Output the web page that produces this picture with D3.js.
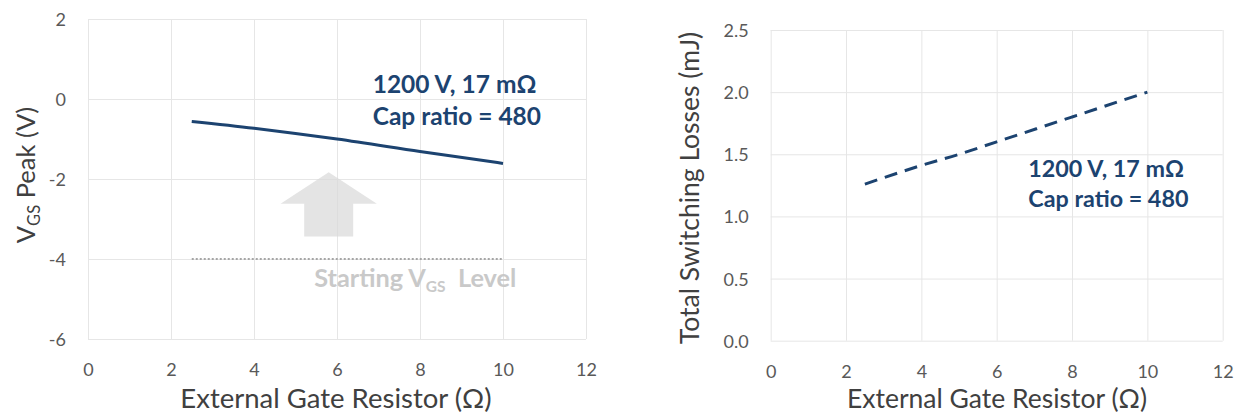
<!DOCTYPE html>
<html><head><meta charset="utf-8">
<script src="https://cdn.jsdelivr.net/npm/d3@7"></script>
<style>body{margin:0;background:#fff} svg{display:block}</style>
</head><body>
<svg id="c" width="1241" height="415"></svg>
<script>
// ---- data ----
const resistor = [2.5, 4, 5, 6, 8, 10];
const vgsPeak = [-0.56, -0.73, -0.86, -1.0, -1.31, -1.61];
const switchLoss = [1.26, 1.41, 1.50, 1.60, 1.80, 2.0];
const startLevelX = [2.5, 10];
const startLevelY = [-4, -4];
const xTicks = [0, 2, 4, 6, 8, 10, 12];
const leftYTicks = [-6, -4, -2, 0, 2];
const rightYTicks = [0, 0.5, 1.0, 1.5, 2.0, 2.5];
const noteLine1 = "1200 V, 17 mΩ";
const noteLine2 = "Cap ratio = 480";
const xTitle = "External Gate Resistor (Ω)";
const rightYTitle = "Total Switching Losses (mJ)";

const FONT = "Lato, 'Open Sans', sans-serif";
const NAVY = "#1c4370";
const svg = d3.select("#c");

function panel(opt) {
  const g = svg.append("g");
  const x = d3.scaleLinear().domain([0, 12]).range([opt.x0, opt.x1]);
  const y = d3.scaleLinear().domain(opt.yDomain).range([opt.y0, opt.y1]);
  const ax = g.append("g").attr("transform", `translate(0,${opt.y0})`)
    .call(d3.axisBottom(x).tickValues(xTicks).tickSizeInner(-(opt.y0 - opt.y1)).tickSizeOuter(0).tickFormat(d => String(d)));
  const ay = g.append("g").attr("transform", `translate(${opt.x0},0)`)
    .call(d3.axisLeft(y).tickValues(opt.yTicks).tickSizeInner(-(opt.x1 - opt.x0)).tickSizeOuter(0).tickFormat(opt.yFmt));
  [ax, ay].forEach(a => {
    a.select(".domain").remove();
    a.selectAll(".tick line").attr("stroke", "#e6e6e6").attr("stroke-width", 1);
    a.selectAll(".tick text").attr("fill", "#595959").style("font-family", FONT).style("font-size", "18px");
  });
  ax.selectAll(".tick text").attr("y", 37).attr("dy", 0);
  ay.selectAll(".tick text").attr("x", -22).attr("dy", "0.36em");
  g.append("text").attr("x", opt.titleX).attr("y", 408)
    .attr("text-anchor", "middle").attr("fill", "#404040")
    .style("font-family", FONT).style("font-size", opt.titleSize).text(xTitle);
  return {g, x, y};
}

// ---- left panel ----
const L = panel({x0: 88, x1: 586, y0: 339, y1: 19, yDomain: [-6, 2], yTicks: leftYTicks,
  yFmt: d => String(d), titleX: 336, titleSize: "27.5px"});

// arrow annotation (in data units)
const arrowCx = 5.8, arrowTip = -1.83, arrowHead = -2.62, arrowBottom = -3.44, headHalf = 1.16, shaftHalf = 0.59;
const arrowPts = [
  [arrowCx, arrowTip], [arrowCx + headHalf, arrowHead], [arrowCx + shaftHalf, arrowHead],
  [arrowCx + shaftHalf, arrowBottom], [arrowCx - shaftHalf, arrowBottom], [arrowCx - shaftHalf, arrowHead],
  [arrowCx - headHalf, arrowHead]
];
L.g.append("polygon").attr("points", arrowPts.map(p => [L.x(p[0]), L.y(p[1])].join(",")).join(" "))
  .attr("fill", "#d9d9d9").attr("fill-opacity", 0.7);

L.g.append("path").datum(startLevelX.map((d, i) => [d, startLevelY[i]]))
  .attr("d", d3.line().x(d => L.x(d[0])).y(d => L.y(d[1])))
  .attr("fill", "none").attr("stroke", "#a6a6a6").attr("stroke-width", 2).attr("stroke-dasharray", "2,2");

const st = L.g.append("text").attr("x", L.x(5.45)).attr("y", L.y(-4.69))
  .attr("fill", "#c9c9c9").style("font-family", FONT).style("font-size", "25.3px").style("font-weight", "bold");
st.append("tspan").text("Starting V");
st.append("tspan").attr("dy", 5).style("font-size", "15.5px").text("GS");
st.append("tspan").attr("dy", -5).text("\u00a0 Level");

L.g.append("path").datum(resistor.map((d, i) => [d, vgsPeak[i]]))
  .attr("d", d3.line().x(d => L.x(d[0])).y(d => L.y(d[1])).curve(d3.curveMonotoneX))
  .attr("fill", "none").attr("stroke", NAVY).attr("stroke-width", 3);

[[noteLine1, 0.14], [noteLine2, -0.66]].forEach(([t, v]) => {
  L.g.append("text").attr("x", L.x(6.86)).attr("y", L.y(v)).attr("fill", NAVY)
    .style("font-family", FONT).style("font-size", "24.5px").style("font-weight", "bold").text(t);
});

const lt = L.g.append("text").attr("transform", `translate(35,175) rotate(-90)`)
  .attr("text-anchor", "middle").attr("fill", "#404040").style("font-family", FONT).style("font-size", "25.5px");
lt.append("tspan").text("V");
lt.append("tspan").attr("dy", 5).style("font-size", "16.5px").text("GS");
lt.append("tspan").attr("dy", -5).text(" Peak (V)");

// ---- right panel ----
const R = panel({x0: 770.7, x1: 1222.7, y0: 340.7, y1: 30, yDomain: [0, 2.5], yTicks: rightYTicks,
  yFmt: d3.format(".1f"), titleX: 997, titleSize: "26.5px"});

R.g.append("path").datum(resistor.map((d, i) => [d, switchLoss[i]]))
  .attr("d", d3.line().x(d => R.x(d[0])).y(d => R.y(d[1])).curve(d3.curveMonotoneX))
  .attr("fill", "none").attr("stroke", NAVY).attr("stroke-width", 3).attr("stroke-dasharray", "13,8");

[[noteLine1, 1.315], [noteLine2, 1.073]].forEach(([t, v]) => {
  R.g.append("text").attr("x", R.x(6.84)).attr("y", R.y(v)).attr("fill", NAVY)
    .style("font-family", FONT).style("font-size", "23.3px").style("font-weight", "bold").text(t);
});

R.g.append("text").attr("transform", `translate(699,188) rotate(-90)`)
  .attr("text-anchor", "middle").attr("fill", "#404040").style("font-family", FONT).style("font-size", "26.5px")
  .text(rightYTitle);
</script>
</body></html>
